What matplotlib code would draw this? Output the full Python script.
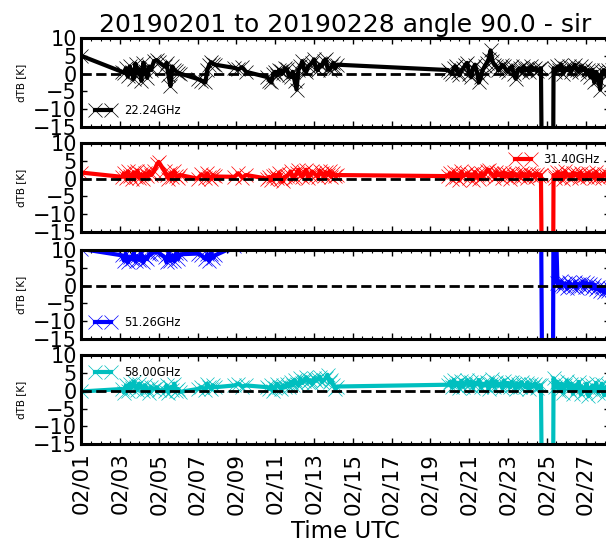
import numpy as np
import pandas as pd
import matplotlib
matplotlib.use('Agg')
import matplotlib.pyplot as plt
import matplotlib.dates as mdates

plt.rcParams['font.family'] = 'DejaVu Sans'
plt.rcParams['xtick.direction'] = 'in'
plt.rcParams['ytick.direction'] = 'in'
plt.rcParams['xtick.top'] = True
plt.rcParams['ytick.right'] = True

# time of each sample, days after 2019-02-01 00:00 UTC
t_days = [0.0,
          2.1, 2.2, 2.3, 2.4, 2.5, 2.6, 2.7, 2.8, 2.9, 3.0, 3.1, 3.2, 3.3, 3.4, 3.5, 3.6,
          3.75, 3.9, 4.0,
          4.3, 4.4, 4.5, 4.6, 4.7, 4.8, 4.9, 5.0, 5.1,
          6.0, 6.2, 6.4, 6.5, 6.6, 6.7, 6.8, 6.9,
          7.9, 8.1, 8.3, 8.5,
          9.6, 9.7, 9.8, 9.9, 10.0, 10.1, 10.2, 10.3, 10.4, 10.5,
          10.6, 10.7, 10.8, 10.9, 11.0, 11.1, 11.2, 11.3, 11.4, 11.5,
          11.6, 11.7, 11.8, 11.9, 12.0, 12.1, 12.2, 12.3, 12.4, 12.5,
          12.6, 12.7, 12.8, 12.9, 13.0, 13.1, 13.2,
          18.9, 19.0, 19.1, 19.2, 19.3, 19.4, 19.5, 19.6, 19.7, 19.8,
          19.9, 20.0, 20.1, 20.2, 20.3, 20.4, 20.5, 20.6, 20.7, 20.8,
          20.9, 21.0, 21.1, 21.2, 21.3, 21.4, 21.5, 21.6, 21.7, 21.8,
          21.9, 22.0, 22.1, 22.2, 22.3, 22.4, 22.5, 22.6, 22.7, 22.8,
          22.9, 23.0, 23.1, 23.2, 23.3, 23.4, 23.5, 23.6, 23.7,
          23.8, 24.3,
          24.35, 24.45, 24.55, 24.65, 24.75, 24.85, 24.95, 25.05, 25.15, 25.25,
          25.35, 25.45, 25.55, 25.65, 25.75, 25.85, 25.95, 26.05, 26.15, 26.25,
          26.35, 26.45, 26.55, 26.65, 26.75, 26.85, 26.95, 27.05, 27.15, 27.25,
          27.35]

dtb_22 = [5.0,
          0.5, 0.2, 1.5, -0.8, 2.0, 0.5, -1.5, 2.8, 0.0, 1.2, -2.0, 3.0, 0.8, -1.2, 2.0, 1.0,
          3.5, 3.8, 3.2,
          2.0, 3.0, -0.5, -3.5, 2.0, 1.0, 0.6, 0.3, 0.0,
          -1.5, -2.0, -2.5, 1.0, 2.5, 3.2, 2.8, 2.5,
          1.6, 1.2, 1.8, 0.5,
          -1.0, -2.0, -2.5, 0.0, 0.5, -0.5, 1.0, 0.8, 0.2, 1.5,
          1.2, -0.5, -1.0, 0.5, -2.0, -4.5, 1.0, 2.0, 3.5, 1.0,
          0.5, 2.0, 2.5, 3.0, 4.0, 1.5, 1.0, 2.5, 2.0, 3.5,
          4.0, 1.5, 1.0, 2.0, 3.0, 1.5, 2.5,
          1.0, 0.5, 0.0, 1.5, 2.0, 0.5, -0.5, 1.0, 1.5, 2.5,
          3.0, 0.0, -1.0, 1.5, 2.5, 0.5, -2.5, -1.0, 1.0, 2.0,
          3.0, 4.0, 6.5, 3.5, 2.5, 2.0, 1.0, 1.5, 2.5, 2.0,
          1.0, 0.5, 1.5, 2.0, 0.0, -1.5, 1.0, 1.5, 0.5, 2.0,
          1.0, 1.5, 0.5, 2.0, 1.0, 1.5, 0.8, 1.2, 1.5,
          -60.0, -60.0,
          1.5, 0.5, 2.0, 1.0, 2.5, 0.0, 1.5, 1.0, 2.0, 0.5,
          1.5, 2.5, 1.0, 0.5, 2.0, 1.0, 1.5, 0.0, 1.0, -1.0,
          1.0, -2.5, 0.5, -1.5, -4.5, 0.5, 1.0, -0.5, 1.0, 0.5,
          1.0]

dtb_31 = [1.7,
          0.5, 1.5, 0.2, 2.0, 0.8, 0.0, 1.8, 0.5, 2.2, 0.3, 1.2, 0.0, 1.5, 0.6, 2.0, 1.0,
          2.0, 4.0, 4.7,
          2.0, 1.0, 0.0, 1.5, 0.5, 2.0, 0.8, 0.2, 1.0,
          0.0, 1.2, 0.3, 1.5, 0.5, 0.0, 1.0, 0.6,
          0.5, 1.5, 0.3, 1.0,
          0.0, 0.5, -0.5, 0.8, 1.0, 0.3, 1.5, 0.0, -0.8, 0.5,
          0.8, 1.2, 2.0, 0.2, 0.5, 1.5, 2.5, 1.0, 0.5, 1.8,
          2.5, 0.2, 1.0, 2.0, 1.5, 1.0, 0.4, 2.2, 1.5, 0.6,
          1.8, 1.0, 2.0, 0.5, 1.5, 0.8, 1.0,
          0.7, 1.5, 0.0, 1.8, 0.5, 1.2, -0.5, 2.0, 0.8, 1.0,
          1.5, 0.3, 1.2, -0.3, 1.8, 0.9, 0.0, 1.5, 0.6, 1.2,
          2.0, 2.5, 1.5, 1.2, 0.3, 1.8, 0.9, 1.5, 0.2, 1.7,
          0.6, 1.4, 0.0, 1.6, 0.8, 1.2, 1.0, 0.4, 1.5, 0.7,
          1.3, 0.2, 1.6, 0.9, 1.1, 0.5, 1.4, 0.8, 1.0,
          -60.0, -60.0,
          1.0, 0.2, 1.8, 0.5, 1.5, 0.0, 2.0, 0.8, 1.2, 0.3,
          1.6, 0.9, 1.4, 0.1, 1.7, 0.6, 1.1, 0.4, 1.5, 0.7,
          1.2, 0.3, 1.8, 0.5, 1.0, 0.2, 1.4, 0.8, 1.1, 0.6,
          1.0]

dtb_51 = [10.3,
          8.5, 7.0, 9.0, 6.5, 8.0, 7.5, 9.2, 6.8, 8.3, 7.2, 9.0, 6.5, 8.0, 7.5, 8.8, 9.0,
          9.3, 9.5, 9.2,
          8.0, 6.5, 9.0, 7.0, 8.5, 6.8, 9.2, 7.5, 8.8,
          9.0, 8.5, 7.5, 8.8, 7.0, 9.0, 7.8, 8.5,
          11.0, 14.0, 18.0, 20.0,
          22.0, 25.0, 24.0, 26.0, 23.0, 25.0, 27.0, 24.0, 26.0, 25.0,
          23.0, 26.0, 24.0, 25.0, 27.0, 23.0, 25.0, 24.0, 26.0, 25.0,
          24.0, 26.0, 23.0, 25.0, 27.0, 24.0, 26.0, 25.0, 23.0, 26.0,
          24.0, 25.0, 27.0, 23.0, 25.0, 24.0, 26.0,
          24.0, 26.0, 25.0, 23.0, 27.0, 24.0, 25.0, 26.0, 23.0, 25.0,
          24.0, 27.0, 25.0, 26.0, 24.0, 23.0, 25.0, 26.0, 24.0, 25.0,
          27.0, 24.0, 26.0, 25.0, 24.0, 23.0, 25.0, 26.0, 24.0, 25.0,
          26.0, 24.0, 23.0, 25.0, 27.0, 24.0, 26.0, 25.0, 23.0, 24.0,
          25.0, 26.0, 24.0, 27.0, 25.0, 23.0, 26.0, 24.0, 25.0,
          -60.0, -60.0,
          25.0, 22.0, 0.8, -0.5, 1.2, 0.0, 0.6, -0.8, 1.0, 0.2,
          -0.3, 0.9, -0.6, 0.4, 0.0, 1.1, -0.4, 0.7, -0.2, 0.5,
          -0.8, 0.3, -1.0, -0.3, -1.5, -0.5, -1.8, -1.0, -1.5, -0.8,
          -1.2]

dtb_58 = [-0.2,
          0.5, -0.5, 1.5, 0.0, 2.0, 0.8, 2.5, 1.2, 0.3, 2.0, 1.0, 0.0, 1.5, 0.5, -0.5, 1.0,
          0.5, 1.0, 0.2,
          0.0, 1.5, -0.5, 1.0, 0.3, 2.0, 0.0, 0.5, -0.3,
          0.5, 1.0, 0.3, 2.0, 1.2, 0.5, 1.5, 1.0,
          1.5, 2.0, 1.2, 1.5,
          1.0, 0.5, 1.5, 0.0, 0.8, 2.0, 1.2, 0.5, 1.5, 1.0,
          2.0, 1.2, 2.5, 1.5, 3.0, 2.0, 1.5, 3.5, 2.2, 2.8,
          3.8, 2.5, 3.0, 2.0, 3.5, 2.8, 3.2, 4.0, 2.5, 3.0,
          3.5, 4.5, 2.5, 3.0, 1.5, 0.5, 1.2,
          1.7, 2.5, 1.0, 3.0, 1.5, 2.2, 0.8, 2.8, 1.2, 2.0,
          3.0, 1.5, 2.5, 0.8, 2.2, 1.8, 3.0, 1.0, 2.0, 1.5,
          2.5, 0.5, 1.8, 3.2, 1.2, 2.6, 1.5, 2.0, 0.8, 2.8,
          1.4, 2.2, 1.0, 2.5, 1.8, 0.6, 2.0, 1.2, 2.4, 1.5,
          1.0, 2.2, 0.5, 1.8, 1.2, 2.0, 0.8, 1.5, 1.5,
          -60.0, -60.0,
          3.5, 1.0, 2.5, 0.0, 2.0, -0.5, 1.5, 2.8, 0.5, 2.0,
          -0.8, 1.5, 0.5, 2.5, -1.0, 1.0, 0.0, 2.0, -1.5, 0.5,
          1.5, 0.0, 2.2, -0.5, 1.0, 2.0, -1.2, 0.8, 1.5, 0.2,
          1.0]

channels = ['22.24GHz', '31.40GHz', '51.26GHz', '58.00GHz']
series = [dtb_22, dtb_31, dtb_51, dtb_58]
colors = ['k', 'r', 'b', 'c']
legend_loc = ['lower left', 'upper right', 'lower left', 'upper left']

start = pd.Timestamp('2019-02-01')
times = start + pd.to_timedelta(t_days, unit='D')

fig = plt.figure(figsize=(6.06, 5.45), dpi=100)

# axes run past the right edge of the figure, as in the cropped original
left, width, height = 0.134, 0.8726, 0.1633
bottoms = [0.767, 0.5743, 0.378, 0.185]

axes = []
for i in range(4):
    ax = fig.add_axes([left, bottoms[i], width, height])
    ax.plot(times, series[i], color=colors[i], lw=3, marker='x', ms=10, mew=0.5,
            label=channels[i])
    ax.axhline(0, color='k', ls='--', lw=2, zorder=3)
    ax.set_ylim(-15, 10)
    ax.set_yticks([-15, -10, -5, 0, 5, 10])
    ax.set_xlim(start, start + pd.Timedelta(days=27.26))
    ax.xaxis.set_major_locator(mdates.DayLocator(bymonthday=range(1, 32, 2)))
    ax.xaxis.set_minor_locator(mdates.HourLocator(byhour=[0, 12]))
    ax.xaxis.set_major_formatter(mdates.DateFormatter('%m/%d'))
    ax.tick_params(axis='both', which='major', labelsize=15, length=4, width=1)
    ax.tick_params(axis='x', which='major', labelsize=15.5)
    ax.tick_params(axis='y', pad=3)
    ax.tick_params(axis='x', which='minor', length=2, width=0.8)
    for sp in ax.spines.values():
        sp.set_linewidth(2.2)
    ax.set_ylabel('dTB [K]', fontsize=7.5)
    ax.yaxis.set_label_coords(-0.105, 0.5)
    ax.legend(loc=legend_loc[i], frameon=False, fontsize=8.3, numpoints=2)
    if i < 3:
        ax.tick_params(axis='x', labelbottom=False)
    axes.append(ax)

axes[0].set_title('20190201 to 20190228 angle 90.0 - sir', fontsize=18, pad=4)
axes[3].tick_params(axis='x', which='major', pad=6)
for lab in axes[3].get_xticklabels():
    lab.set_rotation(90)
axes[3].set_xlabel('Time UTC', fontsize=16.5, labelpad=4)

fig.savefig('out.png', dpi=100)
